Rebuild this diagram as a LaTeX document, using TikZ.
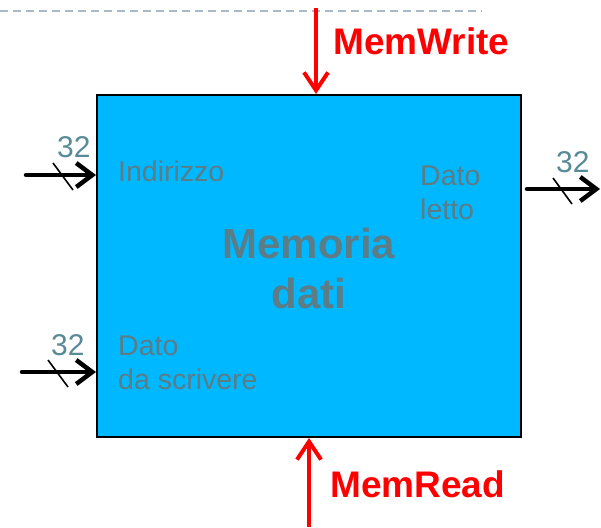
\documentclass[tikz,border=0pt]{standalone}
\usepackage{fontspec}
\setmainfont{Liberation Sans}
\usetikzlibrary{arrows.meta}
\definecolor{boxblue}{RGB}{0,184,255}
\definecolor{labgray}{RGB}{92,124,134}
\definecolor{numcol}{RGB}{88,138,152}
\definecolor{dashcol}{RGB}{170,185,200}
\definecolor{sigred}{RGB}{255,0,0}
\tikzset{
  bus/.style={line width=4.5pt, -{Straight Barb[length=16pt,width=24pt,line width=4.5pt]}, line cap=round},
  sig/.style={line width=4pt, sigred, -{Straight Barb[length=18pt,width=24pt,line width=4pt]}},
  slash/.style={line width=1.6pt},
  num/.style={font=\fontsize{30}{30}\selectfont, text=numcol, inner sep=0pt},
  lab/.style={font=\fontsize{28.5}{34}\selectfont, text=labgray, inner sep=0pt, align=left},
  siglab/.style={font=\fontsize{37}{37}\selectfont\bfseries, text=sigred, inner sep=0pt}
}
\begin{document}
\begin{tikzpicture}[x=1pt,y=-1pt]
\useasboundingbox (0,0) rectangle (601,527);
\draw[dashcol, line width=2.5pt, dash pattern=on 8pt off 5pt] (0,11) -- (482,11);
\node[draw=black, line width=2pt, fill=boxblue, minimum width=424pt, minimum height=342pt, inner sep=0pt] (mem) at (309,266) {};
\node[font=\fontsize{42}{50}\selectfont\bfseries, text=labgray, align=center, inner sep=0pt] (title) at (309,268) {Memoria\\dati};
% MemWrite
\coordinate (mwtop) at (316,8);
\draw[sig] (mwtop) -- (mem.north -| mwtop);
\node[siglab, anchor=base west] (mw) at (333,55) {MemWrite};
% MemRead
\coordinate (mrbot) at (309,527);
\draw[sig] (mrbot) -- (mem.south -| mrbot);
\node[siglab, anchor=base west] (mr) at (330,497) {MemRead};
% Indirizzo input
\coordinate (a1) at (26,175);
\draw[bus] (a1) -- (a1 -| mem.west);
\draw[slash] (53,163) -- (73,190);
\node[num, anchor=base west] (n1) at (57,157) {32};
\node[lab, anchor=base west] (ind) at (118,181) {Indirizzo};
% Dato da scrivere input
\coordinate (a2) at (22,372);
\draw[bus] (a2) -- (a2 -| mem.west);
\draw[slash] (48,360) -- (68,387);
\node[num, anchor=base west] (n2) at (51,355) {32};
\node[lab, anchor=north west] (dds) at (118,336) {Dato\\da scrivere};
% Dato letto output
\coordinate (a3) at (600,189);
\draw[bus] (a3 -| mem.east) ++(5,0) -- (a3);
\draw[slash] (553,178) -- (572,204);
\node[num, anchor=base west] (n3) at (556,172) {32};
\node[lab, anchor=north west] (dl) at (420,166) {Dato\\letto};
\end{tikzpicture}
\end{document}
